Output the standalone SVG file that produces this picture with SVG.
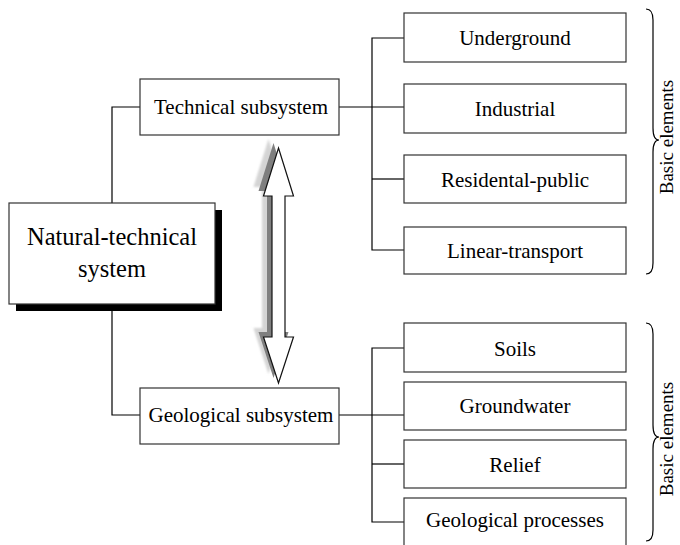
<svg xmlns="http://www.w3.org/2000/svg" width="680" height="545" viewBox="0 0 680 545">
<style>
text{font-family:"Liberation Serif","Times New Roman",serif;fill:#000;text-anchor:middle}
.box{fill:#fff;stroke:#333;stroke-width:1.2}
.t{font-size:21px}
.big{font-size:24.5px}
.lbl{font-size:19px}
.conn{fill:none;stroke:#000;stroke-width:1.2}
.brace{fill:none;stroke:#000;stroke-width:1.2}
</style>
<defs>
<filter id="soft" x="-20%" y="-20%" width="140%" height="140%"><feGaussianBlur stdDeviation="1"/></filter>
<polygon id="arr" points="278.5,148 293.5,196 285,196 285,337 293.5,337 278.5,383 263.5,337 272,337 272,196 263.5,196"/>
</defs>
<rect width="680" height="545" fill="#fff"/>
<g id="connectors">
<polyline class="conn" points="140,107 112,107 112,203"/>
<polyline class="conn" points="112,304 112,415 140,415"/>
<line class="conn" x1="339" y1="107" x2="404" y2="107"/>
<line class="conn" x1="339" y1="415" x2="404" y2="415"/>
<polyline class="conn" points="404,38 372,38 372,250 404,250"/>
<line class="conn" x1="372" y1="179" x2="404" y2="179"/>
<polyline class="conn" points="404,348 372,348 372,522 404,522"/>
<line class="conn" x1="372" y1="464" x2="404" y2="464"/>
</g>
<g id="double-arrow">
<use href="#arr" transform="translate(-10,-9)" fill="#d4d4d4" filter="url(#soft)"/>
<use href="#arr" transform="translate(-5,-5)" fill="#7f7f7f"/>
<use href="#arr" fill="#fff" stroke="#111" stroke-width="1.2"/>
</g>
<g font-family="Liberation Serif, Times New Roman, serif">
<g id="natural-technical-system">
<rect x="16" y="210" width="206" height="101" fill="#000"/>
<rect class="box" x="9" y="203" width="206" height="101"/>
<text class="big" x="112" y="245">Natural-technical</text>
<text class="big" x="112" y="277">system</text>
</g>
<g id="technical-subsystem">
<rect class="box" x="140" y="79" width="199" height="56"/>
<text class="t" x="241" y="114">Technical subsystem</text>
</g>
<g id="geological-subsystem">
<rect class="box" x="140" y="388" width="199" height="56"/>
<text class="t" x="241" y="422">Geological subsystem</text>
</g>
<g id="underground">
<rect class="box" x="404" y="13" width="222" height="49"/>
<text class="t" x="515" y="45">Underground</text>
</g>
<g id="industrial">
<rect class="box" x="404" y="84" width="222" height="49"/>
<text class="t" x="515" y="116">Industrial</text>
</g>
<g id="residental-public">
<rect class="box" x="404" y="155" width="222" height="48"/>
<text class="t" x="515" y="187">Residental-public</text>
</g>
<g id="linear-transport">
<rect class="box" x="404" y="227" width="222" height="47"/>
<text class="t" x="515" y="258">Linear-transport</text>
</g>
<g id="soils">
<rect class="box" x="404" y="323" width="222" height="49"/>
<text class="t" x="515" y="356">Soils</text>
</g>
<g id="groundwater">
<rect class="box" x="404" y="382" width="222" height="48"/>
<text class="t" x="515" y="413">Groundwater</text>
</g>
<g id="relief">
<rect class="box" x="404" y="440" width="222" height="48"/>
<text class="t" x="515" y="472">Relief</text>
</g>
<g id="geological-processes">
<rect class="box" x="404" y="498" width="222" height="49"/>
<text class="t" x="515" y="527">Geological processes</text>
</g>
<g id="brace-top">
<path class="brace" d="M646,9 Q653,9 653,20 L653,128 Q653,140 659,140 Q653,140 653,152 L653,263 Q653,274 646,274"/>
<text class="lbl" transform="translate(673,137) rotate(-90)">Basic elements</text>
</g>
<g id="brace-bottom">
<path class="brace" d="M646,323 Q653,323 653,334 L653,425 Q653,437 659,437 Q653,437 653,449 L653,530 Q653,541 646,541"/>
<text class="lbl" transform="translate(673,439) rotate(-90)">Basic elements</text>
</g>
</g>
</svg>
